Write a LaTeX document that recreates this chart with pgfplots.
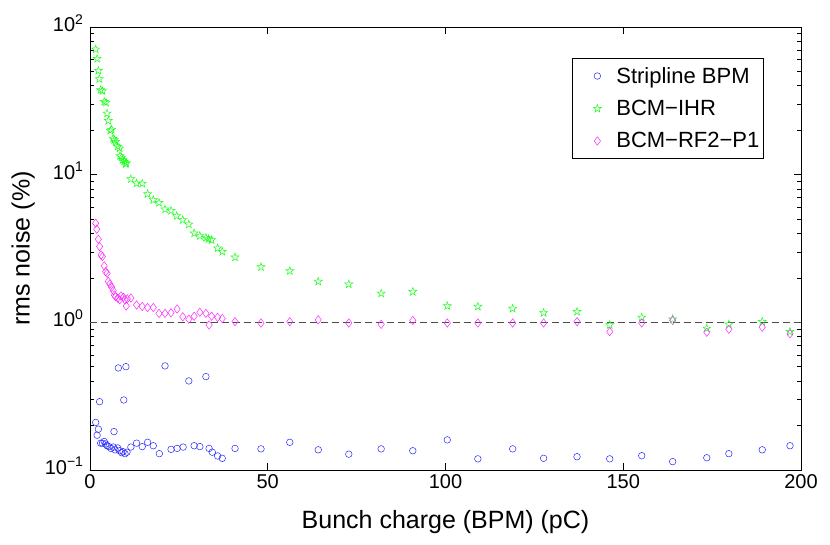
\documentclass[border=0pt]{standalone}
\usepackage{fontspec}
\setmainfont{Liberation Sans}
\usepackage{pgfplots}
\pgfplotsset{compat=1.18}
\usepackage{pgfplotstable}
\usetikzlibrary{plotmarks}
\definecolor{mblue}{rgb}{0.15,0.15,1}
\definecolor{mgreen}{rgb}{0.1,1,0.1}
\definecolor{mmag}{rgb}{1,0.15,1}

\pgfdeclareplotmark{pentagram}{%
  \pgfpathmoveto{\pgfqpointpolar{90}{\pgfplotmarksize}}%
  \pgfpathlineto{\pgfqpointpolar{126}{0.4\pgfplotmarksize}}%
  \pgfpathlineto{\pgfqpointpolar{162}{\pgfplotmarksize}}%
  \pgfpathlineto{\pgfqpointpolar{198}{0.4\pgfplotmarksize}}%
  \pgfpathlineto{\pgfqpointpolar{234}{\pgfplotmarksize}}%
  \pgfpathlineto{\pgfqpointpolar{270}{0.4\pgfplotmarksize}}%
  \pgfpathlineto{\pgfqpointpolar{306}{\pgfplotmarksize}}%
  \pgfpathlineto{\pgfqpointpolar{342}{0.4\pgfplotmarksize}}%
  \pgfpathlineto{\pgfqpointpolar{18}{\pgfplotmarksize}}%
  \pgfpathlineto{\pgfqpointpolar{54}{0.4\pgfplotmarksize}}%
  \pgfpathclose
  \pgfusepathqstroke
}

\pgfplotstableread{
x y
1.6 0.21
2.0 0.172
2.35 0.189
2.7 0.29
3.0 0.152
3.5 0.152
4.0 0.156
4.4 0.150
4.8 0.146
5.35 0.144
5.9 0.140
6.55 0.143
6.75 0.182
7.05 0.137
7.8 0.141
7.97 0.491
8.35 0.135
8.9 0.131
9.3 0.133
9.5 0.298
9.85 0.129
10.1 0.501
10.4 0.132
11.5 0.143
13.1 0.152
14.7 0.144
16.2 0.154
17.8 0.146
19.5 0.129
21.1 0.507
22.8 0.138
24.5 0.140
26.2 0.143
27.8 0.401
29.3 0.146
30.9 0.144
32.6 0.429
33.5 0.140
34.4 0.132
35.9 0.1245
37.2 0.120
40.8 0.140
48.1 0.139
56.2 0.154
64.2 0.137
72.8 0.128
81.9 0.139
90.8 0.135
100.5 0.160
109.1 0.119
118.9 0.139
127.6 0.120
137.0 0.123
146.2 0.119
155.2 0.125
163.9 0.114
173.5 0.121
179.7 0.129
189.1 0.137
196.9 0.146
}\bpm

\pgfplotstableread{
x y
1.6 70.6
2.0 61
2.35 50.6
2.6 44.5
3.0 37.5
3.5 36.9
4.0 31.2
4.5 30.8
4.8 26
5.15 23.2
5.7 19.9
6.1 20.2
6.5 17.6
6.85 17.2
7.2 16.7
7.8 15.5
8.35 15.1
8.45 13.4
8.9 13.1
9.2 12.6
9.65 12.3
10.05 11.8
10.2 12.0
11.5 9.35
13.1 8.74
14.7 8.7
16.2 7.4
17.8 6.74
19.4 6.46
21.1 5.83
22.8 5.7
24.4 5.25
26.1 4.94
27.8 4.61
29.3 4.01
30.9 3.85
32.6 3.74
33.3 3.67
34.2 3.61
35.9 3.18
37.2 3.01
40.8 2.76
48.1 2.37
56.2 2.23
64.2 1.89
72.8 1.81
81.9 1.57
90.8 1.61
100.5 1.29
109.1 1.28
118.9 1.24
127.6 1.16
137.0 1.18
146.2 0.96
155.2 1.08
163.9 1.05
173.5 0.91
179.7 0.97
189.1 1.01
196.9 0.865
}\ihr

\pgfplotstableread{
x y
1.6 4.69
1.9 4.27
2.35 3.65
2.7 3.26
3.1 2.86
3.5 2.79
4.0 2.41
4.4 2.2
4.8 2.15
5.15 1.89
5.6 1.82
6.1 1.73
6.55 1.64
6.85 1.53
7.2 1.49
7.8 1.46
8.35 1.42
8.7 1.51
9.4 1.48
9.85 1.42
10.2 1.29
10.5 1.44
11.5 1.46
13.1 1.31
14.7 1.28
16.2 1.26
17.8 1.26
19.4 1.15
21.1 1.15
22.8 1.16
24.5 1.23
26.1 1.09
27.8 1.05
29.3 1.10
30.9 1.17
32.6 1.15
33.5 0.96
34.2 1.10
35.9 1.08
37.2 1.06
40.8 1.01
48.1 0.99
56.2 1.01
64.2 1.04
72.8 0.99
81.9 0.97
90.8 1.03
100.5 0.99
109.1 0.99
118.9 0.99
127.6 0.99
137.0 1.01
146.2 0.865
155.2 0.99
163.9 1.03
173.5 0.857
179.7 0.897
189.1 0.927
196.9 0.836
}\rf

\begin{document}
\begin{tikzpicture}
\path[use as bounding box] (0,0) rectangle (830pt,545pt);
\begin{axis}[
  at={(90pt,75pt)}, anchor=south west,
  scale only axis, width=711pt, height=443pt,
  xmin=0, xmax=200, ymin=0.1, ymax=100,
  ymode=log,
  xtick={0,50,100,150,200},
  ytick={0.1,1,10,100},
  yticklabels={10\textsuperscript{−1},10\textsuperscript{0},10\textsuperscript{1},10\textsuperscript{2}},
  /pgf/number format/assume math mode=true,
  tick label style={font=\fontsize{20}{24}\selectfont},
  xticklabel style={yshift=-1pt},
  yticklabel style={xshift=-3pt, yshift=4pt},
  label style={font=\fontsize{25}{30}\selectfont},
  xlabel={Bunch charge (BPM) (pC)},
  ylabel={rms noise (\%)},
  xlabel style={yshift=-15pt},
  ylabel style={yshift=3pt},
  tick align=inside,
  major tick length=7pt, minor tick length=4pt,
  every tick/.style={black, line width=0.6pt},
  axis line style={black, line width=0.8pt},
  legend style={at={(0.678,0.930)}, anchor=north west, draw=black, line width=0.6pt,
    font=\fontsize{22}{26}\selectfont, row sep=11.5pt, inner xsep=2pt, inner ysep=7pt,
    legend cell align=left},
  legend image code/.code={\path[draw=none,fill=none] (0pt,-3pt) rectangle (40pt,3pt); \draw[#1] plot coordinates {(23pt,0pt)};},
]
\addplot[only marks, mark=o, mark size=3.3pt, draw=mblue, line width=0.5pt] table[x=x,y=y] {\bpm};
\addlegendentry{Stripline BPM}
\addplot[only marks, mark=pentagram, mark size=4.2pt, draw=mgreen, line width=0.5pt] table[x=x,y=y] {\ihr};
\addlegendentry{BCM−IHR}
\addplot[only marks, mark=diamond, mark size=4.2pt, draw=mmag, line width=0.5pt, mark options={fill opacity=0}] table[x=x,y=y] {\rf};
\addlegendentry{BCM−RF2−P1}
\addplot[forget plot, black!70, line width=0.8pt, dash pattern=on 7pt off 4pt] coordinates {(0,1) (200,1)};
\end{axis}
\end{tikzpicture}
\end{document}
